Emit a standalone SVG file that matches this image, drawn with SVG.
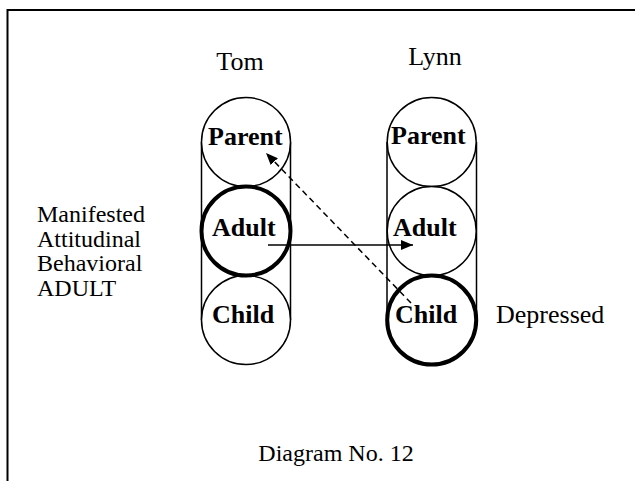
<svg xmlns="http://www.w3.org/2000/svg" width="635" height="481" viewBox="0 0 635 481">
  <style>
    .frame { stroke: #000; stroke-width: 2; fill: none; }
    .side { stroke: #000; stroke-width: 1.5; fill: none; }
    .ego { fill: #fff; stroke: #000; stroke-width: 1.5; }
    .ego.active { stroke-width: 4; }
    .lbl { font-family: "Liberation Serif", "Times New Roman", serif; font-size: 26px; font-weight: bold; fill: #000; }
    .txt { font-family: "Liberation Serif", "Times New Roman", serif; font-size: 24px; fill: #000; }
    .big { font-size: 26px; }
    .link { stroke: #000; stroke-width: 1.5; fill: none; }
    .dash { stroke-dasharray: 6 4; }
  </style>
  <defs>
    <marker id="head" viewBox="0 0 12 10" refX="12" refY="5" markerWidth="12" markerHeight="10" markerUnits="userSpaceOnUse" orient="auto">
      <path d="M0,0 L12,5 L0,10 z" fill="#000"/>
    </marker>
  </defs>

  <rect width="635" height="481" fill="#fff"/>
  <!-- page frame (open on the right and bottom) -->
  <path class="frame" d="M7.5,481 V10 H635"/>

  <!-- column titles -->
  <text class="txt big" x="240" y="70" text-anchor="middle">Tom</text>
  <text class="txt big" x="435" y="65" text-anchor="middle">Lynn</text>

  <!-- Tom: Parent / Adult / Child stack -->
  <g id="tom">
    <path class="side" d="M201.5,142 V320 M290.5,142 V320"/>
    <g id="tom-parent">
      <circle class="ego" cx="246" cy="142" r="44.5"/>
      <text class="lbl" x="208" y="145">Parent</text>
    </g>
    <g id="tom-child">
      <circle class="ego" cx="246" cy="320" r="44.5"/>
      <text class="lbl" x="212" y="323">Child</text>
    </g>
    <g id="tom-adult">
      <circle class="ego active" cx="246" cy="231" r="44.5"/>
      <text class="lbl" x="212" y="236">Adult</text>
    </g>
  </g>

  <!-- Lynn: Parent / Adult / Child stack -->
  <g id="lynn">
    <path class="side" d="M387,142 V320 M476.5,142 V320"/>
    <g id="lynn-parent">
      <circle class="ego" cx="431.7" cy="142" r="44.5"/>
      <text class="lbl" x="391" y="144">Parent</text>
    </g>
    <g id="lynn-adult">
      <circle class="ego" cx="431.7" cy="231" r="44.5"/>
      <text class="lbl" x="393" y="236">Adult</text>
    </g>
    <g id="lynn-child">
      <circle class="ego active" cx="431.7" cy="320" r="44.5"/>
      <text class="lbl" x="395" y="323">Child</text>
    </g>
  </g>

  <!-- transactions -->
  <g id="connectors">
    <line class="link" x1="268" y1="245" x2="413" y2="245" marker-end="url(#head)"/>
    <line class="link dash" x1="411" y1="303" x2="266" y2="153" marker-end="url(#head)"/>
  </g>

  <!-- side notes -->
  <g id="note-left" class="txt">
    <text x="37" y="222">Manifested</text>
    <text x="37" y="247">Attitudinal</text>
    <text x="37" y="271">Behavioral</text>
    <text x="37" y="296">ADULT</text>
  </g>
  <text class="txt big" x="496" y="323">Depressed</text>

  <text class="txt" x="336" y="461" text-anchor="middle">Diagram No. 12</text>
</svg>
